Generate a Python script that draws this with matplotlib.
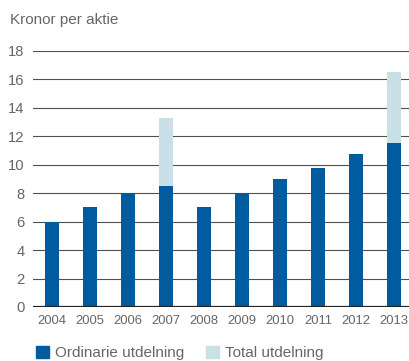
import matplotlib.pyplot as plt
from matplotlib.patches import Patch
import numpy as np

plt.rcParams['font.family'] = ['Liberation Sans', 'DejaVu Sans']

years = ['2004', '2005', '2006', '2007', '2008', '2009', '2010', '2011', '2012', '2013']
ordinarie = [6, 7, 8, 8.5, 7, 8, 9, 9.75, 10.75, 11.5]
total = [6, 7, 8, 13.3, 7, 8, 9, 9.75, 10.75, 16.5]
yticks = [0, 2, 4, 6, 8, 10, 12, 14, 16, 18]

dark_blue = '#005b9f'
light_blue = '#c9e0e7'
grey_text = '#666666'

fig = plt.figure(figsize=(4.1, 3.61), dpi=100)
ax = fig.add_axes([33 / 410, 1 - 307 / 361, 1 - 33 / 410, 256 / 361])

x = np.arange(len(years))
extra = [t - o for t, o in zip(total, ordinarie)]
ax.bar(x, ordinarie, width=0.37, color=dark_blue, zorder=3)
ax.bar(x, extra, bottom=ordinarie, width=0.37, color=light_blue, zorder=3)

ax.set_xlim(-0.5, 9.42)
ax.set_ylim(0, 18)
ax.set_yticks(yticks)
ax.set_xticks(x)
ax.set_xticklabels(years)
ax.yaxis.grid(True, color='#505050', lw=0.8, zorder=1)
ax.axhline(0, color='#222222', lw=1.6, zorder=4)
for s in ax.spines.values():
    s.set_visible(False)
ax.tick_params(axis='both', length=0, colors=grey_text)
ax.tick_params(axis='y', labelsize=10.6, pad=6)
ax.tick_params(axis='x', labelsize=9.4, pad=6)

fig.text(10 / 410, 1 - 20 / 361, 'Kronor per aktie', fontsize=11,
         color=grey_text, va='center', ha='left')

handles = [Patch(color=dark_blue, label='Ordinarie utdelning'),
           Patch(color=light_blue, label='Total utdelning')]
fig.legend(handles=handles, loc='center left', bbox_to_anchor=(30 / 410, 1 - 353 / 361),
           ncol=2, frameon=False, fontsize=11, handlelength=0.85, handleheight=0.85,
           handletextpad=0.4, columnspacing=1.4, labelcolor=grey_text,
           borderaxespad=0, borderpad=0.4)

fig.savefig('out.png', dpi=100)
